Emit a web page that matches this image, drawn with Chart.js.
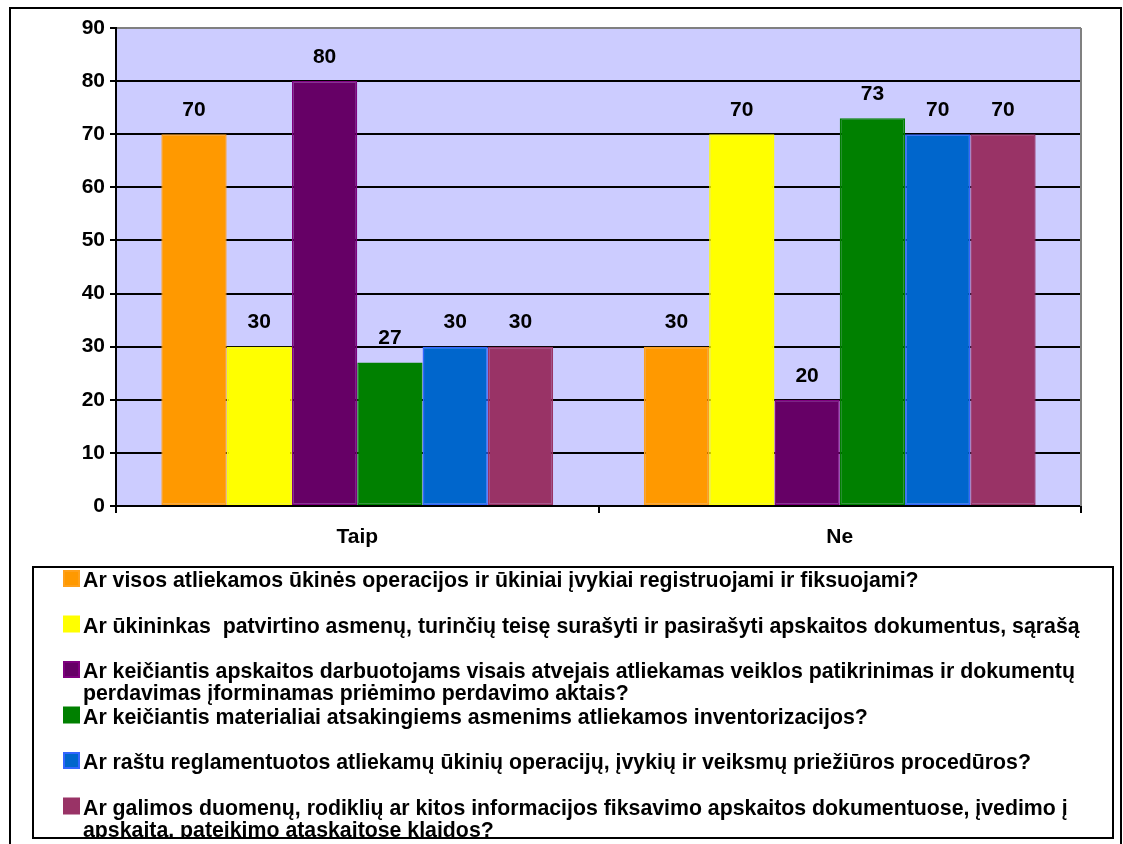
<!DOCTYPE html>
<html>
<head>
<meta charset="utf-8">
<script src="https://cdn.jsdelivr.net/npm/chart.js@4.4.1/dist/chart.umd.min.js"></script>
<style>
  html, body { margin: 0; padding: 0; background: #ffffff; }
  canvas { display: block; }
</style>
</head>
<body>
<canvas id="chart" width="1123" height="844"></canvas>
<script>
// Answer categories on the x axis
const categories = ['Taip', 'Ne'];

// Survey questions (one series each)
const questions = [
  'Ar visos atliekamos ūkinės operacijos ir ūkiniai įvykiai registruojami ir fiksuojami?',
  'Ar ūkininkas  patvirtino asmenų, turinčių teisę surašyti ir pasirašyti apskaitos dokumentus, sąrašą',
  'Ar keičiantis apskaitos darbuotojams visais atvejais atliekamas veiklos patikrinimas ir dokumentų perdavimas įforminamas priėmimo perdavimo aktais?',
  'Ar keičiantis materialiai atsakingiems asmenims atliekamos inventorizacijos?',
  'Ar raštu reglamentuotos atliekamų ūkinių operacijų, įvykių ir veiksmų priežiūros procedūros?',
  'Ar galimos duomenų, rodiklių ar kitos informacijos fiksavimo apskaitos dokumentuose, įvedimo į apskaitą, pateikimo ataskaitose klaidos?'
];

// Answer shares, % (Taip, Ne)
const registravimas    = [70, 30];
const sarasas          = [30, 70];
const perdavimas       = [80, 20];
const inventorizacija  = [27, 73];
const proceduros       = [30, 70];
const klaidos          = [30, 70];

// Y axis range
const yMin = 0;
const yMax = 90;
const yStep = 10;

const seriesValues = [registravimas, sarasas, perdavimas, inventorizacija, proceduros, klaidos];
const fillColors   = ['#FF9900', '#FFFF00', '#660066', '#008000', '#0066CC', '#993366'];
const edgeColors   = ['#FFA01A', '#FFFF00', '#800080', '#008000', '#3366FF', '#993366'];

const FONT = 'Arial, "Liberation Sans", sans-serif';

// Plot area frame (px)
const AREA = { left: 116, top: 28, right: 1081, bottom: 506 };
const W = 1123, H = 844;
const X_AXIS_H = 60;

const datasets = seriesValues.map((vals, i) => ({
  label: questions[i],
  data: vals,
  backgroundColor: fillColors[i],
  borderColor: edgeColors[i],
  borderWidth: 1.5,
  borderSkipped: false,
  categoryPercentage: 0.812,
  barPercentage: 1.0
}));

// Lavender plot background plus grey right frame
const plotBackground = {
  id: 'plotBackground',
  beforeDraw(chart) {
    const { ctx, chartArea: a } = chart;
    ctx.save();
    ctx.fillStyle = '#CCCCFF';
    ctx.fillRect(a.left, a.top, a.right - a.left, a.bottom - a.top);
    ctx.restore();
  },
  afterDatasetsDraw(chart) {
    const { ctx, chartArea: a } = chart;
    ctx.save();
    ctx.strokeStyle = '#808080';
    ctx.lineWidth = 2;
    ctx.beginPath();
    ctx.moveTo(a.right, a.top);
    ctx.lineTo(a.right, a.bottom);
    ctx.stroke();
    ctx.restore();
  }
};

// Value labels above each bar
const valueLabels = {
  id: 'valueLabels',
  afterDatasetsDraw(chart) {
    const { ctx } = chart;
    ctx.save();
    ctx.font = 'bold 21px ' + FONT;
    ctx.fillStyle = '#000';
    ctx.textAlign = 'center';
    ctx.textBaseline = 'middle';
    chart.data.datasets.forEach((ds, di) => {
      const meta = chart.getDatasetMeta(di);
      meta.data.forEach((bar, i) => {
        ctx.fillText(String(ds.data[i]), bar.x, bar.y - 24);
      });
    });
    ctx.restore();
  }
};

function wrapText(ctx, text, maxWidth) {
  const words = text.split(' ');
  const lines = [];
  let line = '';
  for (const w of words) {
    const test = line === '' ? w : line + ' ' + w;
    if (ctx.measureText(test).width > maxWidth && line !== '') {
      lines.push(line);
      line = w;
    } else {
      line = test;
    }
  }
  lines.push(line);
  return lines;
}

// Outer frame and boxed legend under the plot
const boxedLegend = {
  id: 'boxedLegend',
  afterDraw(chart) {
    const { ctx } = chart;
    ctx.save();
    ctx.strokeStyle = '#000';
    ctx.lineWidth = 2;
    ctx.strokeRect(10, 8, 1111, 900);

    const box = { x: 33, y: 567, w: 1080, h: 271 };
    ctx.fillStyle = '#fff';
    ctx.fillRect(box.x, box.y, box.w, box.h);

    ctx.save();
    ctx.beginPath();
    ctx.rect(box.x + 1, box.y + 1, box.w - 2, box.h - 2);
    ctx.clip();
    ctx.font = 'bold 21.3px ' + FONT;
    ctx.textAlign = 'left';
    ctx.textBaseline = 'alphabetic';
    const firstBaseline = 587;
    const rowStep = 45.5;
    const lineStep = 22;
    chart.data.datasets.forEach((ds, i) => {
      const base = firstBaseline + i * rowStep;
      // swatch
      ctx.fillStyle = edgeColors[i];
      ctx.fillRect(63, base - 17, 17, 17);
      ctx.fillStyle = ds.backgroundColor;
      ctx.fillRect(65, base - 15, 13, 13);
      // text
      ctx.fillStyle = '#000';
      const lines = wrapText(ctx, ds.label, 1020);
      lines.forEach((ln, k) => ctx.fillText(ln, 83, base + k * lineStep));
    });
    ctx.restore();

    ctx.strokeStyle = '#000';
    ctx.lineWidth = 2;
    ctx.strokeRect(box.x, box.y, box.w, box.h);
    ctx.restore();
  }
};

new Chart(document.getElementById('chart'), {
  type: 'bar',
  data: { labels: categories, datasets },
  options: {
    responsive: false,
    animation: false,
    devicePixelRatio: 1,
    layout: {
      padding: {
        left: 0,
        top: AREA.top,
        right: W - AREA.right,
        bottom: H - AREA.bottom - X_AXIS_H
      }
    },
    plugins: {
      legend: { display: false },
      tooltip: { enabled: false }
    },
    scales: {
      x: {
        afterFit(scale) { scale.height = X_AXIS_H; },
        grid: {
          offset: true,
          drawOnChartArea: false,
          drawTicks: true,
          tickLength: 7,
          color: '#000',
          lineWidth: 2
        },
        border: { display: true, color: '#000', width: 2 },
        ticks: {
          color: '#000',
          font: { family: FONT, size: 21, weight: 'bold' },
          padding: 12
        }
      },
      y: {
        min: yMin,
        max: yMax,
        afterFit(scale) { scale.width = AREA.left; },
        grid: {
          color: (c) => (c.tick && c.tick.value === yMax ? '#808080' : '#000'),
          tickColor: '#000',
          lineWidth: 2,
          drawTicks: true,
          tickLength: 6
        },
        border: { display: true, color: '#000', width: 2 },
        ticks: {
          stepSize: yStep,
          color: '#000',
          font: { family: FONT, size: 21, weight: 'bold' },
          padding: 5
        }
      }
    }
  },
  plugins: [plotBackground, valueLabels, boxedLegend]
});
</script>
</body>
</html>
